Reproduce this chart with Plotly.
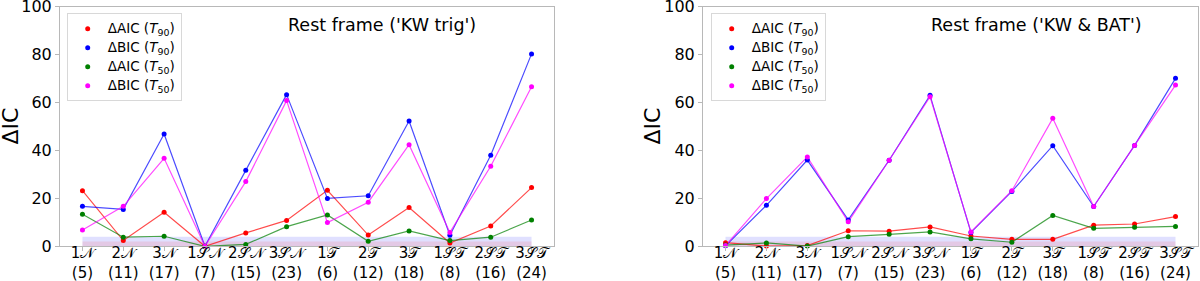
import plotly.graph_objects as go

# ---- data ----
cat_models = ["1𝒩", "2𝒩", "3𝒩", "1𝒮𝒩", "2𝒮𝒩", "3𝒮𝒩", "1𝒯", "2𝒯", "3𝒯", "1𝒮𝒯", "2𝒮𝒯", "3𝒮𝒯"]
cat_counts = [5, 11, 17, 7, 15, 23, 6, 12, 18, 8, 16, 24]

# Left panel: Rest frame ('KW trig')
aic90_L = [23.2, 2.4, 14.2, 0.0, 5.6, 10.8, 23.4, 4.7, 16.2, 1.4, 8.5, 24.5]
bic90_L = [16.7, 15.4, 46.9, 0.0, 31.7, 63.3, 20.0, 21.1, 52.3, 4.6, 38.0, 80.3]
aic50_L = [13.4, 3.8, 4.2, 0.0, 0.8, 8.2, 13.1, 2.1, 6.4, 2.4, 3.8, 11.0]
bic50_L = [6.8, 16.7, 36.7, 0.0, 27.0, 60.8, 9.9, 18.4, 42.4, 5.8, 33.4, 66.6]

# Right panel: Rest frame ('KW & BAT')
aic90_R = [1.5, 0.1, 0.3, 6.5, 6.3, 8.1, 4.3, 2.9, 2.9, 8.8, 9.3, 12.4]
bic90_R = [0.2, 17.1, 36.0, 11.0, 35.9, 63.0, 5.8, 22.9, 42.0, 16.6, 42.1, 70.1]
aic50_R = [0.5, 1.4, 0.1, 4.0, 5.0, 6.0, 3.1, 1.7, 12.9, 7.5, 7.9, 8.3]
bic50_R = [0.3, 19.9, 37.3, 10.2, 35.9, 62.4, 6.0, 23.2, 53.4, 16.6, 42.1, 67.3]

titles = ["Rest frame ('KW trig')", "Rest frame ('KW & BAT')"]
series_names = ["ΔAIC (<i>T</i><sub>90</sub>)", "ΔBIC (<i>T</i><sub>90</sub>)",
                "ΔAIC (<i>T</i><sub>50</sub>)", "ΔBIC (<i>T</i><sub>50</sub>)"]
y_ticks = [0, 20, 40, 60, 80, 100]
colors = ["#ff0000", "#0000ff", "#008000", "#ff00ff"]
line_colors = ["rgba(255,0,0,0.7)", "rgba(0,0,255,0.7)", "rgba(0,128,0,0.7)", "rgba(255,0,255,0.7)"]
band_blue = (0, 4)
band_red = (0, 2)

tick_text = [f"{m}<br>({n})" for m, n in zip(cat_models, cat_counts)]
xs = list(range(len(cat_models)))

W, H = 1200, 281
FONT = "DejaVu Sans"
fig = go.Figure()

panels = [
    dict(data=[aic90_L, bic90_L, aic50_L, bic50_L], xa="x", ya="y", legend="legend"),
    dict(data=[aic90_R, bic90_R, aic50_R, bic50_R], xa="x2", ya="y2", legend="legend2"),
]

for p in panels:
    for vals, c, lc, name in zip(p["data"], colors, line_colors, series_names):
        fig.add_trace(go.Scatter(x=xs, y=vals, mode="lines", line=dict(color=lc, width=1.2),
                                 xaxis=p["xa"], yaxis=p["ya"], showlegend=False, hoverinfo="skip",
                                 cliponaxis=False))
    for vals, c, lc, name in zip(p["data"], colors, line_colors, series_names):
        fig.add_trace(go.Scatter(x=xs, y=vals, mode="markers", marker=dict(color=c, size=5),
                                 name=f'<span style="font-size:13.5px">{name}</span>',
                                 xaxis=p["xa"], yaxis=p["ya"], legend=p["legend"],
                                 cliponaxis=False))

shapes = []
for xr, yr in [("x", "y"), ("x2", "y2")]:
    shapes.append(dict(type="rect", xref=xr, yref=yr, x0=xs[0], x1=xs[-1], y0=band_blue[0], y1=band_blue[1],
                       fillcolor="rgba(0,0,255,0.12)", line=dict(width=0), layer="below"))
    shapes.append(dict(type="rect", xref=xr, yref=yr, x0=xs[0], x1=xs[-1], y0=band_red[0], y1=band_red[1],
                       fillcolor="rgba(255,0,0,0.1)", line=dict(width=0), layer="below"))


def px(x):
    return x / W


def py(y):
    return 1 - y / H


ydom = [py(246.3), py(6.7)]
axis_common = dict(showline=True, mirror=True, linecolor="#b8b8b8", linewidth=1, showgrid=False,
                   zeroline=False, ticks="outside", ticklen=4, tickcolor="#b8b8b8", automargin=False,
                   ticklabeloverflow="allow")
yfont = dict(family=FONT, size=16, color="black")
xfont = dict(family=FONT, size=15, color="black")

annotations = []
for cx, txt in [(382, titles[0]), (1036.5, titles[1])]:
    annotations.append(dict(xref="paper", yref="paper", x=px(cx), y=py(25), text=txt,
                            showarrow=False, xanchor="center", yanchor="middle",
                            font=dict(family=FONT, size=17.5, color="black")))
for cx in [10, 652]:
    annotations.append(dict(xref="paper", yref="paper", x=px(cx), y=py(126.5), text="ΔIC",
                            showarrow=False, textangle=-90, xanchor="center", yanchor="middle",
                            font=dict(family=FONT, size=22, color="black")))

legend_common = dict(bgcolor="white", bordercolor="#d8d8d8", borderwidth=1,
                     font=dict(family=FONT, size=12, color="black"), xanchor="left", yanchor="top",
                     tracegroupgap=0, itemsizing="trace")

fig.update_layout(
    width=W, height=H, margin=dict(l=0, r=0, t=0, b=0, autoexpand=False),
    paper_bgcolor="white", plot_bgcolor="white",
    xaxis=dict(domain=[px(60), px(554)], range=[-0.55, 11.55], tickvals=xs, ticktext=tick_text,
               tickangle=0, ticklabelstandoff=-11, tickfont=xfont, **axis_common),
    xaxis2=dict(domain=[px(703), px(1198)], range=[-0.55, 11.55], tickvals=xs, ticktext=tick_text,
                tickangle=0, ticklabelstandoff=-11, tickfont=xfont, **axis_common),
    yaxis=dict(domain=ydom, range=[0, 100.001], tickvals=y_ticks, anchor="x", tickfont=yfont, **axis_common),
    yaxis2=dict(domain=ydom, range=[0, 100.001], tickvals=y_ticks, anchor="x2", tickfont=yfont, **axis_common),
    legend=dict(x=px(66.7), y=py(13.3), **legend_common),
    legend2=dict(x=px(710.7), y=py(13.3), **legend_common),
    shapes=shapes, annotations=annotations,
)

fig.write_html("out.html", config={"displayModeBar": False},
               post_script="document.body.style.margin='0';document.body.style.overflow='hidden';")
